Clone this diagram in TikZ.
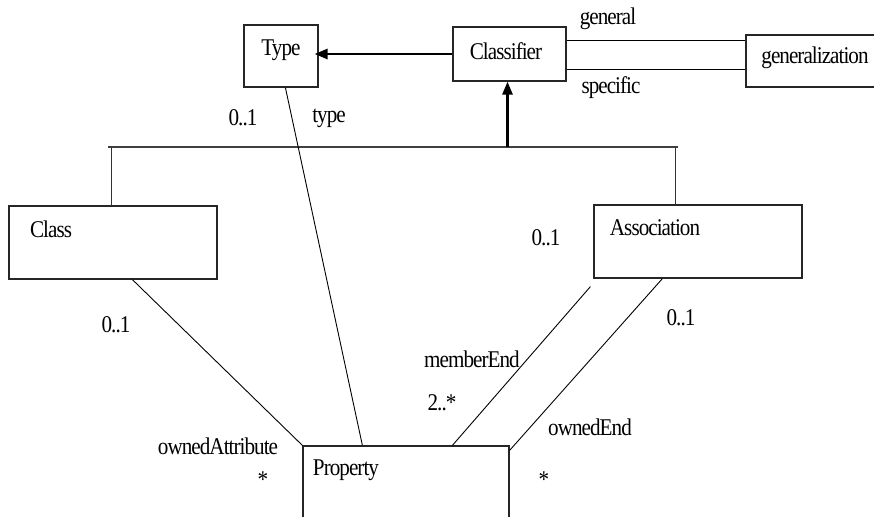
\documentclass[tikz,border=0pt]{standalone}
\usepackage{fontspec}
\setmainfont{Liberation Serif}[FakeStretch=0.88,LetterSpace=-4]
\usetikzlibrary{calc,arrows.meta}
\begin{document}
\begin{tikzpicture}[x=1pt,y=-1pt,
  box/.style={draw=black!85,line width=1.2pt,inner sep=0pt,rectangle},
  lbl/.style={inner sep=0pt,font=\fontsize{24}{26}\selectfont},
  thin/.style={line width=0.9pt,black},
  genarrow/.style={line width=2.6pt,black,-{Triangle[length=13pt,width=10pt]}},
  barline/.style={line width=2pt,black!75}]
\useasboundingbox (0,0) rectangle (874,516);

% classes
\node[box,minimum width=74pt,minimum height=62pt] (type) at (281,56) {};
\node[box,minimum width=113pt,minimum height=54pt] (classifier) at (509.5,54) {};
\node[box,minimum width=129pt,minimum height=52pt] (gen) at (810.5,61) {};
\node[box,minimum width=208pt,minimum height=73pt] (class) at (113,242.5) {};
\node[box,minimum width=208pt,minimum height=73pt] (assoc) at (698,241.5) {};
\node[box,minimum width=206pt,minimum height=84pt] (property) at (406,488) {};

% class names
\node[lbl] (typeT) at (281,50) {Type};
\node[lbl] (classifierT) at (506,51) {Classifier};
\node[lbl] (genT) at (815,58) {generalization};
\node[lbl] (classT) at (51,229) {Class};
\node[lbl] (assocT) at (655,228) {Association};
\node[lbl] (propertyT) at (346,470) {Property};

% Classifier specialises Type
\draw[genarrow] (classifier.west) -- ($(classifier.west -| type.east)+(-4,0)$);

% Classifier -- generalization (general / specific)
\coordinate (cg1) at ($(classifier.north east)+(0,14)$);
\coordinate (cg2) at ($(classifier.south east)+(0,-12)$);
\draw[thin] (cg1) -- (cg1 -| gen.west);
\draw[thin] (cg2) -- (cg2 -| gen.west);

% generalization tree: Class and Association specialise Classifier
\coordinate (barL) at (108,147);
\coordinate (barR) at (678,147);
\draw[barline] (barL) -- (barR);
\coordinate (classTop) at ($(class.north west)+(103,0)$);
\coordinate (assocTop) at ($(assoc.north west)+(82,0)$);
\draw[thin,black!80,line width=1.2pt] (classTop) -- (classTop |- barL);
\draw[thin,black!80,line width=1.2pt] (assocTop) -- (assocTop |- barL);
\draw[genarrow] ($(classifier.south |- barL)+(-2,0)$) -- ($(classifier.south)+(-2,0)$);

% associations to Property
\draw[thin] ($(type.south west)+(42,0)$) -- ($(property.north west)+(60,0)$);
\draw[thin] ($(class.south west)+(124,0)$) -- (property.north west);
\draw[thin] ($(assoc.south west)+(-3,8)$) -- ($(property.north west)+(150,0)$);
\draw[thin] ($(assoc.south west)+(69,0)$) -- ($(property.north east)+(0,5)$);

% role names and multiplicities
\node[lbl] (lGeneral) at (608,19) {general};
\node[lbl] (lSpecific) at (611,88) {specific};
\node[lbl] (lTypeM) at (243,118) {0..1};
\node[lbl] (lType) at (329,118) {type};
\node[lbl] (lClassM) at (116,325) {0..1};
\node[lbl] (lAttr) at (218,446) {ownedAttribute};
\node[lbl] (lAttrM) at (263,480) {*};
\node[lbl] (lAssocM1) at (546,238) {0..1};
\node[lbl] (lAssocM2) at (681,318) {0..1};
\node[lbl] (lMember) at (472,359) {memberEnd};
\node[lbl] (lMemberM) at (442,403) {2..*};
\node[lbl] (lOwned) at (590,427) {ownedEnd};
\node[lbl] (lOwnedM) at (544,480) {*};
\end{tikzpicture}
\end{document}
